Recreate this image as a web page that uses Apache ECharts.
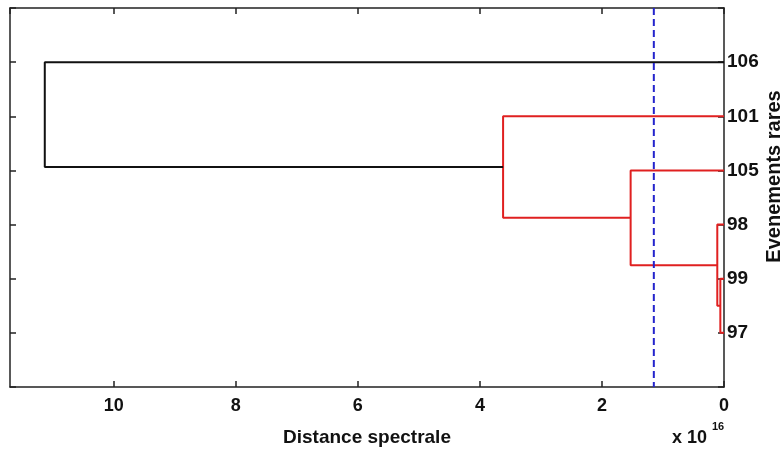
<!DOCTYPE html>
<html>
<head>
<meta charset="utf-8">
<script src="https://cdn.jsdelivr.net/npm/echarts@6/dist/echarts.min.js"></script>
<style>
  html, body { margin: 0; padding: 0; background: #fff; }
  #chart { width: 783px; height: 452px; }
</style>
</head>
<body>
<div id="chart"></div>
<script>
// leaves from top to bottom (y = index + 1)
const leafLabels = ['106', '101', '105', '98', '99', '97']
// links: node ids < 6 are leaves, link k creates node 6 + k
const linkLeft = [4, 3, 2, 1, 0]
const linkRight = [5, 6, 7, 8, 9]
const linkHeight = [0.06, 0.11, 1.53, 3.62, 11.13]
const linkColor = ['#e02020', '#e02020', '#e02020', '#e02020', '#111111']
const cutoff = 1.15
const xTicks = [0, 2, 4, 6, 8, 10]

const FONT = 'Liberation Sans, Arial, sans-serif'

// node positions (height, y)
const nodeX = leafLabels.map(() => 0)
const nodeY = leafLabels.map((l, i) => i + 1)
linkLeft.forEach((a, k) => {
  const b = linkRight[k]
  nodeX.push(linkHeight[k])
  nodeY.push((nodeY[a] + nodeY[b]) / 2)
})

const series = linkLeft.map((a, k) => {
  const b = linkRight[k]
  const h = linkHeight[k]
  return {
    type: 'line',
    data: [
      [nodeX[a], nodeY[a]],
      [h, nodeY[a]],
      [h, nodeY[b]],
      [nodeX[b], nodeY[b]],
    ],
    showSymbol: false,
    symbol: 'none',
    silent: true,
    lineStyle: { color: linkColor[k], width: 2 },
    z: 3,
  }
})

series.push({
  type: 'line',
  data: [[cutoff, 0], [cutoff, 7]],
  symbol: 'none',
  silent: true,
  lineStyle: { color: '#2424cc', width: 2, type: [7, 4] },
  z: 4,
})

const axisLine = { onZero: false, lineStyle: { color: '#222', width: 1.5 } }
const axisTick = { inside: true, length: 6, lineStyle: { color: '#222', width: 1.5 } }

const chart = echarts.init(document.getElementById('chart'))
chart.setOption({
  animation: false,
  backgroundColor: '#fff',
  grid: { left: 10, right: 59, top: 8, bottom: 65, containLabel: false, outerBoundsMode: 'none' },
  xAxis: [
    {
      type: 'value',
      position: 'bottom',
      inverse: true,
      min: 0,
      max: 11.7,
      interval: 2,
      name: 'Distance spectrale',
      nameLocation: 'middle',
      nameGap: 41,
      nameMoveOverlap: false,
      nameTextStyle: { fontFamily: FONT, fontWeight: 'bold', fontSize: 19, color: '#111' },
      axisLine: axisLine,
      axisTick: axisTick,
      axisLabel: {
        showMaxLabel: false,
        margin: 10,
        fontFamily: FONT,
        fontWeight: 'bold',
        fontSize: 18,
        color: '#111',
        formatter: (v) => (xTicks.indexOf(v) >= 0 ? String(v) : ''),
      },
      splitLine: { show: false },
    },
    {
      type: 'value',
      position: 'top',
      inverse: true,
      min: 0,
      max: 11.7,
      interval: 2,
      axisLine: axisLine,
      axisTick: axisTick,
      axisLabel: { show: false },
      splitLine: { show: false },
    },
  ],
  yAxis: [
    {
      type: 'value',
      position: 'right',
      inverse: true,
      min: 0,
      max: 7,
      interval: 1,
      name: 'Evenements rares',
      nameLocation: 'middle',
      nameRotate: 90,
      nameGap: 40,
      nameMoveOverlap: false,
      nameTextStyle: {
        fontFamily: FONT,
        fontWeight: 'bold',
        fontSize: 20,
        color: '#111',
        padding: [0, 0, 0, 42],
      },
      axisLine: axisLine,
      axisTick: axisTick,
      axisLabel: {
        margin: 3,
        fontFamily: FONT,
        fontWeight: 'bold',
        fontSize: 19,
        color: '#111',
        formatter: (v) => leafLabels[v - 1] || '',
      },
      splitLine: { show: false },
    },
    {
      type: 'value',
      position: 'left',
      inverse: true,
      min: 0,
      max: 7,
      interval: 1,
      axisLine: axisLine,
      axisTick: axisTick,
      axisLabel: { show: false },
      splitLine: { show: false },
    },
  ],
  graphic: [
    {
      type: 'text',
      left: 672,
      top: 429,
      style: { text: 'x 10', fontFamily: FONT, fontWeight: 'bold', fontSize: 18, fill: '#111' },
    },
    {
      type: 'text',
      left: 712,
      top: 421,
      style: { text: '16', fontFamily: FONT, fontWeight: 'bold', fontSize: 11, fill: '#111' },
    },
  ],
  series: series,
})
</script>
</body>
</html>
